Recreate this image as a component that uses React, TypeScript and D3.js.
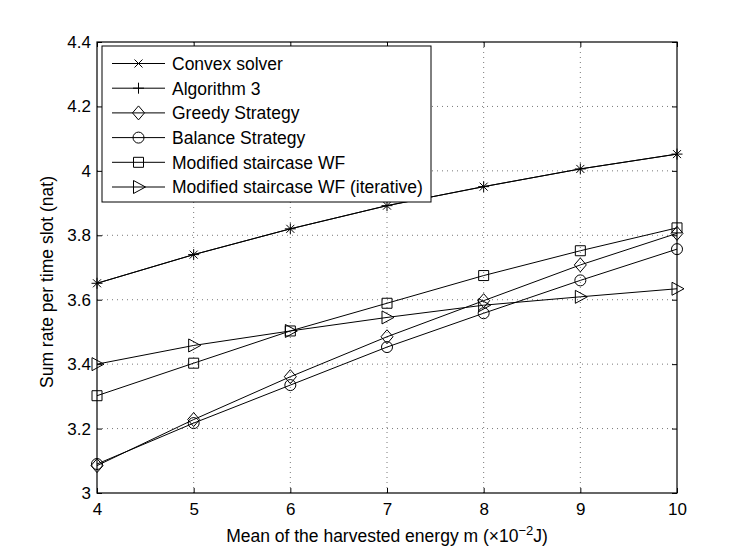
import { useEffect, useRef } from "react"
import * as d3 from "d3"

const energy = [4, 5, 6, 7, 8, 9, 10]
const convexSolver = [3.651, 3.74, 3.82, 3.892, 3.951, 4.006, 4.052]
const algorithm3 = [3.651, 3.74, 3.82, 3.892, 3.951, 4.006, 4.052]
const greedy = [3.085, 3.228, 3.361, 3.485, 3.597, 3.708, 3.806]
const balance = [3.09, 3.217, 3.335, 3.453, 3.558, 3.66, 3.757]
const staircase = [3.302, 3.403, 3.503, 3.589, 3.675, 3.752, 3.823]
const staircaseIter = [3.4, 3.458, 3.503, 3.545, 3.583, 3.609, 3.634]

const xTicks = [4, 5, 6, 7, 8, 9, 10]
const yTicks = [3, 3.2, 3.4, 3.6, 3.8, 4, 4.2, 4.4]

type Marker = "x" | "plus" | "diamond" | "circle" | "square" | "triangle"

const seriesList: { name: string; values: number[]; marker: Marker }[] = [
  { name: "Convex solver", values: convexSolver, marker: "x" },
  { name: "Algorithm 3", values: algorithm3, marker: "plus" },
  { name: "Greedy Strategy", values: greedy, marker: "diamond" },
  { name: "Balance Strategy", values: balance, marker: "circle" },
  { name: "Modified staircase WF", values: staircase, marker: "square" },
  { name: "Modified staircase WF (iterative)", values: staircaseIter, marker: "triangle" },
]

function drawMarker(g: d3.Selection<SVGGElement, unknown, null, undefined>, m: Marker, cx: number, cy: number) {
  const s = g.append("path").attr("fill", "none").attr("stroke", "#000").attr("stroke-width", 1)
  let d = ""
  if (m === "x") d = `M${cx - 4},${cy - 4}L${cx + 4},${cy + 4}M${cx - 4},${cy + 4}L${cx + 4},${cy - 4}`
  if (m === "plus") d = `M${cx - 5.5},${cy}L${cx + 5.5},${cy}M${cx},${cy - 5.5}L${cx},${cy + 5.5}`
  if (m === "diamond") d = `M${cx},${cy - 7}L${cx + 6},${cy}L${cx},${cy + 7}L${cx - 6},${cy}Z`
  if (m === "circle") d = `M${cx - 5.5},${cy}a5.5,5.5 0 1,0 11,0a5.5,5.5 0 1,0 -11,0Z`
  if (m === "square") d = `M${cx - 5},${cy - 5}h10v10h-10Z`
  if (m === "triangle") d = `M${cx - 5},${cy - 6.5}L${cx + 7},${cy}L${cx - 5},${cy + 6.5}Z`
  s.attr("d", d)
}

export default function App() {
  const svgRef = useRef<SVGSVGElement>(null)

  useEffect(() => {
    document.body.style.margin = "0"
    if (!svgRef.current) return
    d3.select(svgRef.current).selectAll("*").remove()

    const width = 747
    const height = 555
    const margin = { top: 42, right: 70, bottom: 62, left: 97 }
    const w = width - margin.left - margin.right
    const h = height - margin.top - margin.bottom
    const font = "'Liberation Sans', Arial, Helvetica, sans-serif"

    const svg = d3.select(svgRef.current).attr("width", width).attr("height", height)
    svg.append("rect").attr("width", width).attr("height", height).attr("fill", "#fff")
    const g = svg.append("g").attr("transform", `translate(${margin.left},${margin.top})`)

    const x = d3.scaleLinear().domain([4, 10]).range([0, w])
    const y = d3.scaleLinear().domain([3, 4.4]).range([h, 0])

    // Grid
    g.selectAll(".gx")
      .data(xTicks.slice(1, -1))
      .enter()
      .append("line")
      .attr("x1", (d) => x(d))
      .attr("x2", (d) => x(d))
      .attr("y1", 0)
      .attr("y2", h)
      .attr("stroke", "#555")
      .attr("stroke-width", 0.8)
      .attr("stroke-dasharray", "1,4")
    g.selectAll(".gy")
      .data(yTicks.slice(1, -1))
      .enter()
      .append("line")
      .attr("x1", 0)
      .attr("x2", w)
      .attr("y1", (d) => y(d))
      .attr("y2", (d) => y(d))
      .attr("stroke", "#555")
      .attr("stroke-width", 0.8)
      .attr("stroke-dasharray", "1,4")

    // Axes with inward ticks
    const axisStyle = (sel: d3.Selection<SVGGElement, unknown, null, undefined>) => {
      sel.select(".domain").remove()
      sel.selectAll("text").style("font-family", font).style("font-size", "17px").attr("fill", "#000")
      sel.selectAll("line").attr("stroke", "#000")
    }
    g.append("g")
      .attr("transform", `translate(0,${h})`)
      .call(d3.axisBottom(x).tickValues(xTicks).tickSizeInner(-5).tickSizeOuter(0).tickPadding(10).tickFormat(d3.format("d")))
      .call(axisStyle)
    g.append("g")
      .call(d3.axisTop(x).tickValues(xTicks).tickSizeInner(-5).tickSizeOuter(0).tickFormat(() => ""))
      .call(axisStyle)
    g.append("g")
      .call(d3.axisLeft(y).tickValues(yTicks).tickSizeInner(-5).tickSizeOuter(0).tickPadding(6).tickFormat((d) => d3.format("")(+(+d).toFixed(1))))
      .call(axisStyle)
    g.append("g")
      .attr("transform", `translate(${w},0)`)
      .call(d3.axisRight(y).tickValues(yTicks).tickSizeInner(-5).tickSizeOuter(0).tickFormat(() => ""))
      .call(axisStyle)

    g.append("rect")
      .attr("width", w)
      .attr("height", h)
      .attr("fill", "none")
      .attr("stroke", "#000")
      .attr("stroke-width", 1.2)

    // Lines and markers
    const line = d3
      .line<number>()
      .x((_, i) => x(energy[i]))
      .y((d) => y(d))
    seriesList.forEach((s) => {
      g.append("path").datum(s.values).attr("fill", "none").attr("stroke", "#000").attr("stroke-width", 1).attr("d", line)
      const mg = g.append("g")
      s.values.forEach((v, i) => drawMarker(mg, s.marker, x(energy[i]), y(v)))
    })

    // Legend
    const lg = svg.append("g").attr("transform", "translate(102,46)")
    lg.append("rect").attr("width", 329).attr("height", 156).attr("fill", "#fff").attr("stroke", "#000").attr("stroke-width", 1)
    seriesList.forEach((s, i) => {
      const cy = 17.5 + i * 24.7
      lg.append("line").attr("x1", 10).attr("x2", 63).attr("y1", cy).attr("y2", cy).attr("stroke", "#000").attr("stroke-width", 1)
      drawMarker(lg, s.marker, 36.5, cy)
      lg.append("text")
        .attr("x", 70)
        .attr("y", cy + 6.3)
        .style("font-family", font)
        .style("font-size", "17.5px")
        .text(s.name)
    })

    // Axis labels
    const xl = svg
      .append("text")
      .attr("x", 387)
      .attr("y", 541.5)
      .attr("text-anchor", "middle")
      .style("font-family", font)
      .style("font-size", "17.5px")
    xl.append("tspan").text("Mean of the harvested energy m (×10")
    xl.append("tspan").attr("dy", -7).style("font-size", "13px").text("−2")
    xl.append("tspan").attr("dy", 7).text("J)")

    svg
      .append("text")
      .attr("transform", `translate(53,282) rotate(-90)`)
      .attr("text-anchor", "middle")
      .style("font-family", font)
      .style("font-size", "17.5px")
      .text("Sum rate per time slot (nat)")
  }, [])

  return <svg ref={svgRef}></svg>
}
